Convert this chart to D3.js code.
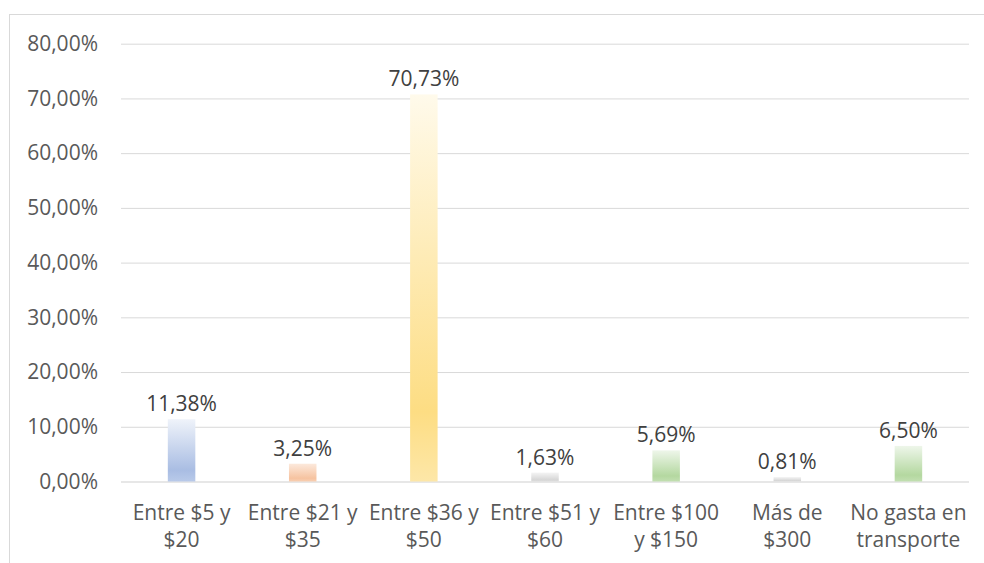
<!DOCTYPE html>
<html>
<head>
<meta charset="utf-8">
<script src="https://cdn.jsdelivr.net/npm/d3@7"></script>
<style>
  html, body { margin: 0; padding: 0; background: #ffffff; }
  svg { display: block; }
  text { font-family: "Open Sans", "Noto Sans", sans-serif; }
</style>
</head>
<body>
<svg id="chart" width="984" height="563"></svg>
<script>
// Gasto en transporte: share of respondents per spending range
const categories = [
  ["Entre $5 y", "$20"],
  ["Entre $21 y", "$35"],
  ["Entre $36 y", "$50"],
  ["Entre $51 y", "$60"],
  ["Entre $100", "y $150"],
  ["Más de", "$300"],
  ["No gasta en", "transporte"]
];
const values = [11.38, 3.25, 70.73, 1.63, 5.69, 0.81, 6.50];
const yTicks = [0, 10, 20, 30, 40, 50, 60, 70, 80];
// bar fill: [top tint, full tone, bottom tint]
const barColors = [
  ["#eff3fa", "#a9bde3", "#b9cae9"],
  ["#fce9dc", "#f6c3a0", "#f8cfb3"],
  ["#fffaeb", "#fddd83", "#fde7a8"],
  ["#f4f4f4", "#d6d6d6", "#dfdfdf"],
  ["#eef6ea", "#b4d8a0", "#c2dfb1"],
  ["#f4f4f4", "#d6d6d6", "#dfdfdf"],
  ["#eef6ea", "#b4d8a0", "#c2dfb1"]
];

const fmt = v => v.toFixed(2).replace(".", ",") + "%";

const svg = d3.select("#chart");
const plot = { left: 121, right: 969, top: 43.7, bottom: 481.5 };
const fontSize = "21px";

const x = d3.scaleBand()
  .domain(d3.range(categories.length))
  .range([plot.left, plot.right])
  .paddingInner(0.773)
  .paddingOuter(0.773 / 2);

const y = d3.scaleLinear().domain([0, 80]).range([plot.bottom, plot.top]);

// outer chart frame
svg.append("rect")
  .attr("x", 9.5).attr("y", 14.5)
  .attr("width", 1000).attr("height", 600)
  .attr("fill", "none").attr("stroke", "#d9d9d9").attr("stroke-width", 1);

// gradients
const defs = svg.append("defs");
barColors.forEach((c, i) => {
  const g = defs.append("linearGradient")
    .attr("id", "grad" + i)
    .attr("x1", 0).attr("y1", 0).attr("x2", 0).attr("y2", 1);
  g.append("stop").attr("offset", "0%").attr("stop-color", c[0]);
  g.append("stop").attr("offset", "82%").attr("stop-color", c[1]);
  g.append("stop").attr("offset", "100%").attr("stop-color", c[2]);
});

// horizontal grid + y labels
const yAxis = d3.axisLeft(y)
  .tickValues(yTicks)
  .tickSize(-(plot.right - plot.left))
  .tickPadding(23)
  .tickFormat(fmt);

const gy = svg.append("g")
  .attr("transform", `translate(${plot.left},0)`)
  .call(yAxis);
gy.select(".domain").remove();
gy.selectAll(".tick line")
  .attr("stroke", d => d === 0 ? "#cfcfcf" : "#d9d9d9")
  .attr("stroke-width", 1);
gy.selectAll(".tick text")
  .attr("fill", "#595959")
  .style("font-size", fontSize);

// bars
svg.append("g").selectAll("rect")
  .data(values)
  .join("rect")
  .attr("x", (d, i) => x(i))
  .attr("width", x.bandwidth())
  .attr("y", d => y(d))
  .attr("height", d => y(0) - y(d))
  .attr("fill", (d, i) => `url(#grad${i})`);

// value labels
svg.append("g").selectAll("text")
  .data(values)
  .join("text")
  .attr("x", (d, i) => x(i) + x.bandwidth() / 2)
  .attr("y", d => y(d) - 8)
  .attr("text-anchor", "middle")
  .attr("fill", "#404040")
  .style("font-size", fontSize)
  .text(fmt);

// category labels (two lines)
const cat = svg.append("g").selectAll("text")
  .data(categories)
  .join("text")
  .attr("text-anchor", "middle")
  .attr("fill", "#595959")
  .style("font-size", fontSize);
cat.each(function(d, i) {
  const t = d3.select(this);
  const cx = x(i) + x.bandwidth() / 2;
  d.forEach((line, k) => {
    t.append("tspan").attr("x", cx).attr("y", 520 + k * 27).text(line);
  });
});
</script>
</body>
</html>
